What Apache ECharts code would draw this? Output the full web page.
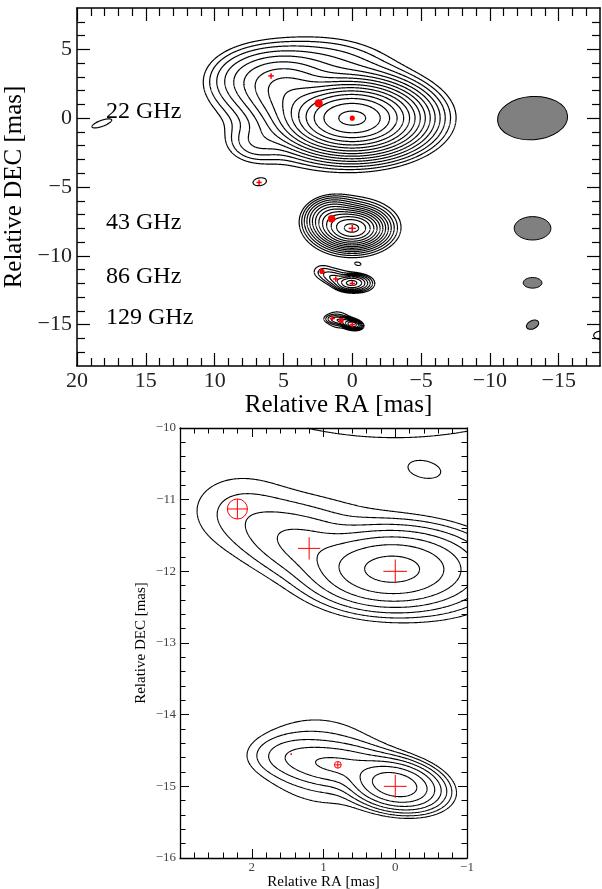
<!DOCTYPE html>
<html>
<head>
<meta charset="utf-8">
<script src="https://cdn.jsdelivr.net/npm/echarts@6/dist/echarts.min.js"></script>
<style>
  html, body { margin: 0; padding: 0; background: #fff; }
  #chart { width: 602px; height: 889px; }
</style>
</head>
<body>
<div id="chart"></div>
<script>
// Gaussian model components:
// [RA, DEC, peak (units of lowest contour), sigma RA, sigma DEC, tilt deg]
const comps22 = [
  [0.0, 0.0, 135, 2.1, 1.1, 0],
  [-1.0, 0.0, 5, 3.3, 1.8, 0],
  [3.0, 1.0, 3, 4.0, 2.6, 0],
  [2.5, 4.0, 1.5, 3.0, 1.2, 0],
  [4.5, 1.8, 8, 1.6, 1.3, 0],
  [6.0, 2.6, 3, 1.6, 1.3, 0],
  [7.5, 2.9, 1.5, 1.6, 1.3, 0],
  [9.0, 2.8, 0.8, 1.6, 1.3, 0],
  [7.0, -1.8, 1.8, 1.3, 0.9, 0],
  [6.77, -4.67, 1.0, 0.72, 0.4, -8],
  [18.2, -0.38, 1.3, 1.05, 0.3, -20]
];
const comps43 = [
  [0.0, -8.0, 65, 1.0, 0.6, 0],
  [1.5, -7.3, 12, 0.9, 0.7, 0],
  [0.0, -7.9, 5, 1.9, 1.2, 0],
  [-0.42, -10.6, 0.95, 0.24, 0.12, 10]
];
const comps86 = [
  [0.05, -11.97, 80, 0.48, 0.24, 0],
  [-0.6, -12.0, 6, 0.5, 0.3, 0],
  [1.2, -11.68, 9, 0.55, 0.25, 20],
  [2.2, -11.13, 1.3, 0.42, 0.33, 0],
  [0.8, -11.6, 2, 1.1, 0.45, 15]
];
const comps129 = [
  [0.0, -14.98, 115, 0.28, 0.145, 10],
  [0.8, -14.7, 15.5, 0.43, 0.15, 5],
  [1.45, -14.55, 3, 0.3, 0.15, 0],
  [1.0, -14.65, 3, 0.55, 0.38, 10],
  [-18.05, -15.77, 1.3, 0.7, 0.41, 0]
];

// ratio between successive contour levels of each map (22, 43, 86, 129 GHz)
const levelRatio = [Math.SQRT2, Math.SQRT2, 2, 2];

// restoring beams: [RA, DEC, width, height, rotation deg]
const beams = [
  [-13.1, 0.0, 5.1, 3.14, 4],
  [-13.1, -8.0, 2.67, 1.7, 0],
  [-13.1, -11.96, 1.36, 0.77, 0],
  [-13.1, -15.0, 0.95, 0.6, 25]
];

// model-fit components: [RA, DEC, kind (0 cross, 1 circle), size mas]
const marks22 = [[5.9, 3.07, 0, 0.2], [2.44, 1.08, 1, 0.24], [0, 0, 1, 0.09], [6.77, -4.67, 0, 0.18]];
const marks43 = [[1.5, -7.3, 1, 0.22], [0, -8, 0, 0.26]];
const marks86 = [[2.2, -11.13, 1, 0.14], [1.2, -11.68, 0, 0.155], [0, -12, 0, 0.165]];
const marks129 = [[1.45, -14.55, 0, 0.012], [0.8, -14.7, 1, 0.047], [0, -15, 0, 0.16]];

const freqLabels = ['22 GHz', '43 GHz', '86 GHz', '129 GHz'];

const topXTicks = [20, 15, 10, 5, 0, -5, -10, -15];
const topYTicks = [5, 0, -5, -10, -15];
const zoomXTicks = [2, 1, 0, -1];
const zoomYTicks = [-16, -15, -14, -13, -12, -11, -10];

const SERIF = '"Liberation Serif", "DejaVu Serif", serif';

function fmt(v) { return String(v).replace('-', '\u2212'); }

function minorTicks(min, max, step, majorStep) {
  const out = [];
  const n = Math.round((max - min) / step);
  for (let i = 1; i < n; i++) {
    const v = +(min + i * step).toFixed(6);
    if (Math.abs(v / majorStep - Math.round(v / majorStep)) > 1e-6) out.push(v);
  }
  return out;
}

const CASES = {
  1: [[3, 0]], 2: [[0, 1]], 3: [[3, 1]], 4: [[1, 2]], 6: [[0, 2]], 7: [[3, 2]],
  8: [[2, 3]], 9: [[0, 2]], 11: [[1, 2]], 12: [[1, 3]], 13: [[0, 1]], 14: [[0, 3]]
};

function contourSegments(comps, xr, yr, ppu, ratio) {
  const P = comps.map(c => {
    const t = c[5] * Math.PI / 180;
    return { x: c[0], y: c[1], a: c[2], ct: Math.cos(t), st: Math.sin(t),
      kx: 1 / (2 * c[3] * c[3]), ky: 1 / (2 * c[4] * c[4]) };
  });
  let x0 = Infinity, x1 = -Infinity, y0 = Infinity, y1 = -Infinity, smin = Infinity;
  comps.forEach(c => {
    const r = Math.max(c[3], c[4]) * Math.sqrt(2 * Math.log(c[2] * 20));
    x0 = Math.min(x0, c[0] - r); x1 = Math.max(x1, c[0] + r);
    y0 = Math.min(y0, c[1] - r); y1 = Math.max(y1, c[1] + r);
    smin = Math.min(smin, c[3], c[4]);
  });
  x0 = Math.max(x0, xr[0]); x1 = Math.min(x1, xr[1]);
  y0 = Math.max(y0, yr[0]); y1 = Math.min(y1, yr[1]);
  if (x1 <= x0 || y1 <= y0) return [];
  const step = Math.min(smin / 8, 1.2 / ppu);
  const nx = Math.ceil((x1 - x0) / step) + 1, ny = Math.ceil((y1 - y0) / step) + 1;
  const dx = (x1 - x0) / (nx - 1), dy = (y1 - y0) / (ny - 1);
  const f = new Float64Array(nx * ny);
  let fmax = 0;
  for (let j = 0; j < ny; j++) {
    const y = y0 + j * dy;
    for (let i = 0; i < nx; i++) {
      const x = x0 + i * dx;
      let s = 0;
      for (const p of P) {
        const ddx = x - p.x, ddy = y - p.y;
        const u = ddx * p.ct + ddy * p.st, v = -ddx * p.st + ddy * p.ct;
        const e = u * u * p.kx + v * v * p.ky;
        if (e < 40) s += p.a * Math.exp(-e);
      }
      f[j * nx + i] = s;
      if (s > fmax) fmax = s;
    }
  }
  const segs = [];
  for (let L = 1; L < fmax; L *= ratio) {
    for (let j = 0; j < ny - 1; j++) {
      for (let i = 0; i < nx - 1; i++) {
        const v0 = f[j * nx + i], v1 = f[j * nx + i + 1];
        const v2 = f[(j + 1) * nx + i + 1], v3 = f[(j + 1) * nx + i];
        let c = 0;
        if (v0 > L) c |= 1; if (v1 > L) c |= 2; if (v2 > L) c |= 4; if (v3 > L) c |= 8;
        if (c === 0 || c === 15) continue;
        const pt = e => {
          if (e === 0) return [x0 + (i + (L - v0) / (v1 - v0)) * dx, y0 + j * dy];
          if (e === 1) return [x0 + (i + 1) * dx, y0 + (j + (L - v1) / (v2 - v1)) * dy];
          if (e === 2) return [x0 + (i + (L - v3) / (v2 - v3)) * dx, y0 + (j + 1) * dy];
          return [x0 + i * dx, y0 + (j + (L - v0) / (v3 - v0)) * dy];
        };
        let pairs = CASES[c];
        if (c === 5 || c === 10) {
          const up = (v0 + v1 + v2 + v3) / 4 > L;
          if (c === 5) pairs = up ? [[0, 1], [2, 3]] : [[3, 0], [1, 2]];
          else pairs = up ? [[3, 0], [1, 2]] : [[0, 1], [2, 3]];
        }
        for (const pr of pairs) segs.push({ coords: [pt(pr[0]), pt(pr[1])] });
      }
    }
  }
  return segs;
}

const TOP_X = [-18, 20], TOP_Y = [-18, 8];
const ZOOM_X = [-1, 3], ZOOM_Y = [-16, -10];
const TOP_PPU = 523 / 38, ZOOM_PPU = 287 / 4;

function axisSet(dim, grid, lo, hi, inverse, majors, minors, labels, look) {
  const posA = dim === 'x' ? 'bottom' : 'left';
  const posB = dim === 'x' ? 'top' : 'right';
  const base = { type: 'value', gridIndex: grid, min: lo, max: hi, inverse: inverse,
    splitLine: { show: false }, minorTick: { show: false }, axisPointer: { show: false } };
  const tick = (vals, len) => ({ show: true, inside: true, length: len, customValues: vals,
    lineStyle: { color: '#000', width: look.tickWidth } });
  const line = { show: true, onZero: false, lineStyle: { color: '#000', width: look.lineWidth } };
  const hidden = { show: false, onZero: false };
  return [
    Object.assign({}, base, {
      position: posA, axisLine: line, axisTick: tick(majors, look.major),
      axisLabel: { show: true, customValues: labels, formatter: fmt, fontFamily: SERIF,
        fontSize: look.labelSize, color: look.labelColor, margin: dim === 'x' ? look.xMargin : look.yMargin },
      name: look.name, nameLocation: 'middle', nameGap: look.nameGap,
      nameTextStyle: { fontFamily: SERIF, fontSize: look.nameSize, color: '#000' }
    }),
    Object.assign({}, base, { position: posA, axisLine: hidden, axisTick: tick(minors, look.minor), axisLabel: { show: false } }),
    Object.assign({}, base, { position: posB, axisLine: line, axisTick: tick(majors, look.major), axisLabel: { show: false } }),
    Object.assign({}, base, { position: posB, axisLine: hidden, axisTick: tick(minors, look.minor), axisLabel: { show: false } })
  ];
}

const topLook = { tickWidth: 1.2, lineWidth: 1.5, major: 13, minor: 8, labelSize: 22, labelColor: '#222',
  xMargin: 4, yMargin: 5, nameSize: 25 };
const zoomLook = { tickWidth: 1, lineWidth: 1.3, major: 9, minor: 5.5, labelSize: 13, labelColor: '#444',
  xMargin: 3, yMargin: 4, nameSize: 15 };

const xAxes = [].concat(
  axisSet('x', 0, TOP_X[0], TOP_X[1], true, topXTicks, minorTicks(-18, 20, 1, 5), topXTicks,
    Object.assign({}, topLook, { name: 'Relative RA [mas]', nameGap: 20 })),
  axisSet('x', 1, ZOOM_X[0], ZOOM_X[1], true, [2, 1, 0], minorTicks(-1, 3, 0.2, 1), zoomXTicks,
    Object.assign({}, zoomLook, { name: 'Relative RA [mas]', nameGap: 13 }))
);
const yAxes = [].concat(
  axisSet('y', 0, TOP_Y[0], TOP_Y[1], false, topYTicks, minorTicks(-18, 8, 1, 5), topYTicks,
    Object.assign({}, topLook, { name: 'Relative DEC [mas]', nameGap: 48 })),
  axisSet('y', 1, ZOOM_Y[0], ZOOM_Y[1], false, zoomYTicks, minorTicks(-16, -10, 0.2, 1), zoomYTicks,
    Object.assign({}, zoomLook, { name: 'Relative DEC [mas]', nameGap: 31 }))
);

function contourSeries(segs, axisIdx, width) {
  return { type: 'lines', coordinateSystem: 'cartesian2d', xAxisIndex: axisIdx, yAxisIndex: axisIdx,
    polyline: false, large: true, largeThreshold: 50, silent: true, clip: true, z: 2,
    lineStyle: { color: '#000', width: width, opacity: 1 }, data: segs };
}

function markerSeries(data, axisIdx, minPlus, minRing, lw, fillSmall) {
  return {
    type: 'custom', xAxisIndex: axisIdx, yAxisIndex: axisIdx, z: 5, silent: true, clip: true,
    data: data,
    renderItem: function (params, api) {
      const c = api.coord([api.value(0), api.value(1)]);
      const s = Math.abs(api.size([api.value(3), 0])[0]);
      const st = { stroke: '#ff0000', lineWidth: lw, fill: null };
      if (api.value(2) === 0) {
        const a = Math.max(s, minPlus);
        return { type: 'group', children: [
          { type: 'line', shape: { x1: c[0] - a, y1: c[1], x2: c[0] + a, y2: c[1] }, style: st },
          { type: 'line', shape: { x1: c[0], y1: c[1] - a, x2: c[0], y2: c[1] + a }, style: st }
        ] };
      }
      const r = Math.max(s, minRing);
      const solid = fillSmall && r < 4;
      return { type: 'group', children: [
        { type: 'circle', shape: { cx: c[0], cy: c[1], r: r },
          style: { stroke: '#ff0000', lineWidth: lw, fill: solid ? '#ff0000' : 'transparent' } },
        { type: 'line', shape: { x1: c[0] - r, y1: c[1], x2: c[0] + r, y2: c[1] }, style: st },
        { type: 'line', shape: { x1: c[0], y1: c[1] - r, x2: c[0], y2: c[1] + r }, style: st }
      ] };
    }
  };
}

const mapComps = [comps22, comps43, comps86, comps129];
const series = [];
mapComps.forEach((comps, k) => {
  series.push(contourSeries(contourSegments(comps, TOP_X, TOP_Y, TOP_PPU, levelRatio[k]), 0, 1.2));
  if (k > 0) series.push(contourSeries(contourSegments(comps, ZOOM_X, ZOOM_Y, ZOOM_PPU, levelRatio[k]), 4, 1.1));
});
series.push({
  type: 'custom', xAxisIndex: 0, yAxisIndex: 0, z: 4, silent: true, data: beams,
  renderItem: function (params, api) {
    const c = api.coord([api.value(0), api.value(1)]);
    const s = api.size([api.value(2), api.value(3)]);
    return { type: 'ellipse', x: c[0], y: c[1], rotation: api.value(4) * Math.PI / 180,
      shape: { cx: 0, cy: 0, rx: Math.abs(s[0]) / 2, ry: Math.abs(s[1]) / 2 },
      style: { fill: '#808080', stroke: '#000', lineWidth: 1 } };
  }
});
series.push(markerSeries([].concat(marks22, marks43, marks86, marks129), 0, 2.6, 1.8, 1.5, true));
series.push(markerSeries([].concat(marks86, marks129), 4, 0, 0, 1, false));

const labelY = [111.7, 222.5, 276.7, 317.5];
const graphic = freqLabels.map((t, i) => ({
  type: 'text', x: 106, y: labelY[i], z: 10,
  style: { text: t, fontFamily: SERIF, fontSize: 24, fill: '#000', verticalAlign: 'middle' }
}));

const chart = echarts.init(document.getElementById('chart'), null, { renderer: 'canvas' });
chart.setOption({
  animation: false,
  backgroundColor: '#fff',
  textStyle: { fontFamily: SERIF },
  grid: [
    { left: 77, top: 8, width: 523, height: 358, outerBoundsMode: 'none' },
    { left: 180, top: 428, width: 287, height: 430, outerBoundsMode: 'none' }
  ],
  xAxis: xAxes,
  yAxis: yAxes,
  series: series,
  graphic: graphic
});
</script>
</body>
</html>
